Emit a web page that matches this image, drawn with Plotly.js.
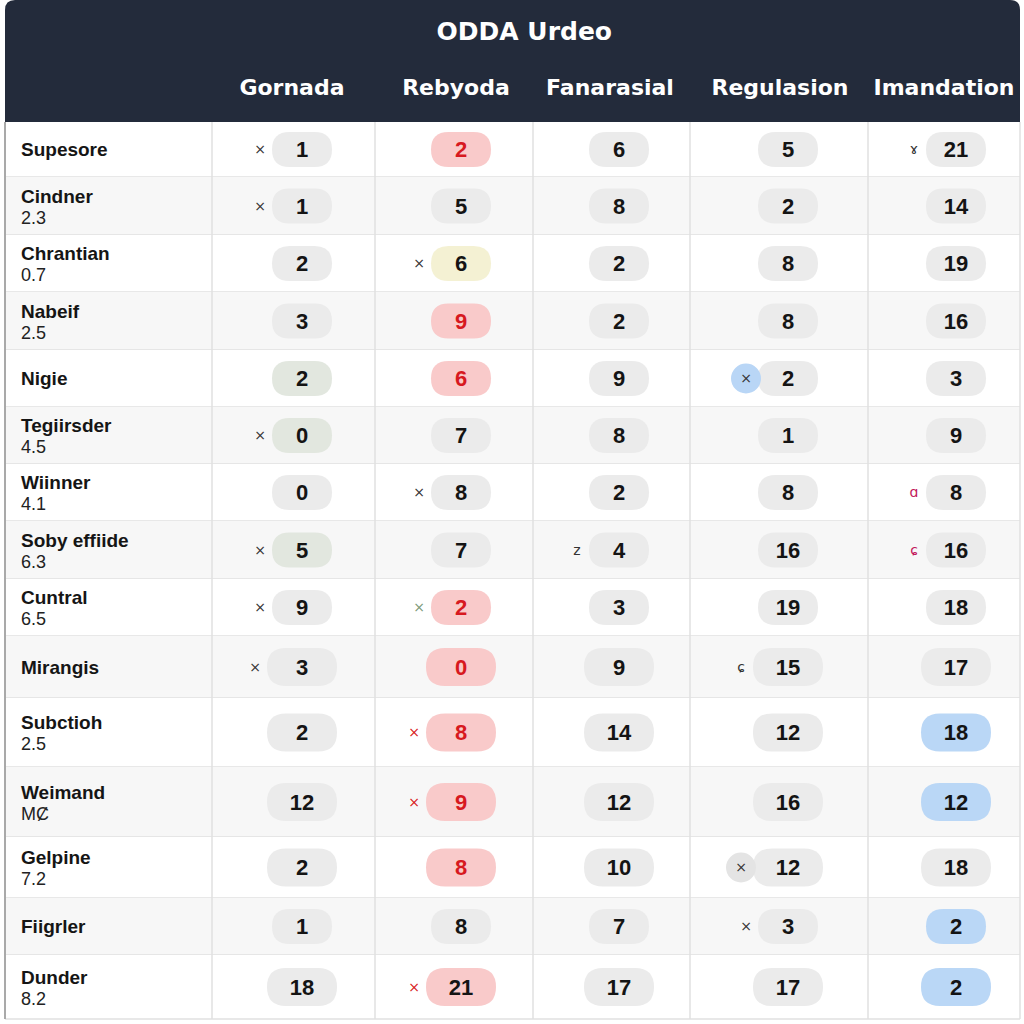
<!DOCTYPE html>
<html>
<head>
<meta charset="utf-8">
<script src="https://cdn.plot.ly/plotly-3.0.1.min.js"></script>
<style>body{margin:0;background:#fff}#plotArea{width:1024px;height:1024px}</style>
</head>
<body>
<div id="plotArea"></div>
<script>
// table content
var title = "ODDA Urdeo";
var columns = ["Gornada", "Rebyoda", "Fanarasial", "Regulasion", "Imandation"];
var names = ["Supesore", "Cindner", "Chrantian", "Nabeif", "Nigie", "Tegiirsder", "Wiinner", "Soby effiide",
    "Cuntral", "Mirangis", "Subctioh", "Weimand", "Gelpine", "Fiigrler", "Dunder"];
var subs = ["", "2.3", "0.7", "2.5", "", "4.5", "4.1", "6.3", "6.5", "", "2.5", "MȻ", "7.2", "", "8.2"];

var gornada    = [1, 1, 2, 3, 2, 0, 0, 5, 9, 3, 2, 12, 2, 1, 18];
var rebyoda    = [2, 5, 6, 9, 6, 7, 8, 7, 2, 0, 8, 9, 8, 8, 21];
var fanarasial = [6, 8, 2, 2, 9, 8, 2, 4, 3, 9, 14, 12, 10, 7, 17];
var regulasion = [5, 2, 8, 8, 2, 1, 8, 16, 19, 15, 12, 16, 12, 3, 17];
var imandation = [21, 14, 19, 16, 3, 9, 8, 16, 18, 17, 18, 12, 18, 2, 2];

// badge tone per cell: g grey, r red, R red badge dark text, v sage, y cream, b blue
var gornadaTone    = ["g","g","g","g","v","v","g","v","g","g","g","g","g","g","g"];
var rebyodaTone    = ["r","g","y","r","r","g","g","g","r","r","r","r","r","g","R"];
var fanarasialTone = ["g","g","g","g","g","g","g","g","g","g","g","g","g","g","g"];
var regulasionTone = ["g","g","g","g","g","g","g","g","g","g","g","g","g","g","g"];
var imandationTone = ["g","g","g","g","g","g","g","g","g","g","b","b","g","b","b"];

// little marks left of some badges: [row, column, glyph, colour, circle]
var cellMarks = [
    [0, 0, "×", "#333", ""], [0, 4, "ɤ", "#333", ""],
    [1, 0, "×", "#333", ""], [2, 1, "×", "#333", ""],
    [4, 3, "×", "#333", "#b9d6f6"], [5, 0, "×", "#333", ""],
    [6, 1, "×", "#333", ""], [6, 4, "ɑ", "#c2185b", ""],
    [7, 0, "×", "#333", ""], [7, 2, "z", "#333", ""], [7, 4, "ɕ", "#c2185b", ""],
    [8, 0, "×", "#333", ""], [8, 1, "×", "#7a9a7a", ""],
    [9, 0, "×", "#333", ""], [9, 3, "ɕ", "#333", ""],
    [10, 1, "×", "#d71920", ""], [11, 1, "×", "#d71920", ""],
    [12, 3, "×", "#333", "#e4e4e4"], [13, 3, "×", "#333", ""],
    [14, 1, "×", "#d71920", ""]
];

// geometry (pixels)
var colEdges = [5, 212, 375, 533, 690, 868, 1020];
var valueX = [302, 461, 619, 788, 956];
var headX = [292, 456, 610, 780, 944];
var tableTop = 122;
var rowH = [55, 58, 57, 58, 57, 57, 57, 58, 57, 62, 69, 70, 61, 57, 64];
var textNudge = 2;

var values = [gornada, rebyoda, fanarasial, regulasion, imandation];
var tones = [gornadaTone, rebyodaTone, fanarasialTone, regulasionTone, imandationTone];
var toneBg = {g: "#ebebeb", r: "#f9caca", R: "#f9caca", v: "#e2e7df", y: "#f4f1d3", b: "#bad7f6"};
var toneText = {g: "#141414", r: "#d71920", R: "#141414", v: "#141414", y: "#141414", b: "#141414"};

var rowTop = [], rowMid = [];
var acc = tableTop;
rowH.forEach(function(h) {
    rowTop.push(acc);
    rowMid.push(acc + h / 2);
    acc += h;
});
var tableBottom = acc;

function roundRect(x0, y0, x1, y1, r) {
    return "M" + (x0 + r) + "," + y0 + " L" + (x1 - r) + "," + y0 +
        " Q" + x1 + "," + y0 + " " + x1 + "," + (y0 + r) +
        " L" + x1 + "," + (y1 - r) + " Q" + x1 + "," + y1 + " " + (x1 - r) + "," + y1 +
        " L" + (x0 + r) + "," + y1 + " Q" + x0 + "," + y1 + " " + x0 + "," + (y1 - r) +
        " L" + x0 + "," + (y0 + r) + " Q" + x0 + "," + y0 + " " + (x0 + r) + "," + y0 + " Z";
}

var shapes = [];
// header block, rounded top
shapes.push({type: "path", xref: "x", yref: "y", layer: "below", line: {width: 0}, fillcolor: "#232b3b",
    path: "M5,122 L5,10 Q5,0 15,0 L1010,0 Q1020,0 1020,10 L1020,122 Z"});

// zebra rows
rowH.forEach(function(h, i) {
    shapes.push({type: "rect", xref: "x", yref: "y", layer: "below", line: {width: 0},
        fillcolor: i % 2 ? "#f7f7f7" : "#ffffff",
        x0: colEdges[0], x1: colEdges[colEdges.length - 1], y0: rowTop[i], y1: rowTop[i] + h});
    shapes.push({type: "line", xref: "x", yref: "y", layer: "below", line: {color: "#e1e1e1", width: 1.5},
        x0: colEdges[0], x1: colEdges[colEdges.length - 1], y0: rowTop[i] + h, y1: rowTop[i] + h});
});
colEdges.forEach(function(x, j) {
    shapes.push({type: "line", xref: "x", yref: "y", layer: "below",
        line: {color: j === 0 ? "#a9a9a9" : "#e1e1e1", width: j === 0 ? 2 : 1.5},
        x0: x, x1: x, y0: tableTop, y1: tableBottom});
});

// badges
var numX = [], numY = [], numText = [], numColor = [];
values.forEach(function(col, j) {
    col.forEach(function(v, i) {
        var w = rowH[i] >= 60 ? 70 : 60;
        var h = rowH[i] >= 60 ? 38 : 35;
        var cx = valueX[j], cy = rowMid[i];
        shapes.push({type: "path", xref: "x", yref: "y", layer: "below", line: {width: 0},
            fillcolor: toneBg[tones[j][i]],
            path: roundRect(cx - w / 2, cy - h / 2, cx + w / 2, cy + h / 2, h / 2)});
        numX.push(cx); numY.push(cy + textNudge); numText.push(String(v)); numColor.push(toneText[tones[j][i]]);
    });
});

var markX = [], markY = [], markText = [], markColor = [];
cellMarks.forEach(function(m) {
    var w = rowH[m[0]] >= 60 ? 70 : 60;
    var x = valueX[m[1]] - w / 2 - 12;
    var y = rowMid[m[0]];
    if (m[4]) {
        shapes.push({type: "circle", xref: "x", yref: "y", layer: "below", line: {width: 0},
            fillcolor: m[4], x0: x - 15, x1: x + 15, y0: y - 15, y1: y + 15});
    }
    markX.push(x); markY.push(y + 1); markText.push(m[2]); markColor.push(m[3]);
});

var nameY = [], subY = [];
names.forEach(function(n, i) {
    nameY.push((subs[i] ? rowMid[i] - 10 : rowMid[i]) + textNudge);
    subY.push(rowMid[i] + 11 + textNudge);
});

var textBase = {type: "scatter", mode: "text", hoverinfo: "skip", showlegend: false, cliponaxis: false};

var headers = Object.assign({}, textBase, {
    x: headX, y: headX.map(function() { return 89; }), text: columns,
    textposition: "middle center",
    textfont: {family: "DejaVu Sans", size: 22, color: "#ffffff", weight: "bold"}
});
var nameTrace = Object.assign({}, textBase, {
    x: names.map(function() { return 21; }), y: nameY, text: names,
    textposition: "middle right",
    textfont: {family: "Liberation Sans", size: 19, color: "#151515", weight: "bold"}
});
var subTrace = Object.assign({}, textBase, {
    x: subs.map(function() { return 21; }), y: subY, text: subs,
    textposition: "middle right",
    textfont: {family: "Liberation Sans", size: 18, color: "#222222"}
});
var numTrace = Object.assign({}, textBase, {
    x: numX, y: numY, text: numText, textposition: "middle center",
    textfont: {family: "Liberation Sans", size: 22, color: numColor, weight: "bold"}
});
var markTrace = Object.assign({}, textBase, {
    x: markX, y: markY, text: markText, textposition: "middle center",
    textfont: {family: "DejaVu Sans", size: 14, color: markColor}
});

var layout = {
    width: 1024, height: 1024,
    margin: {l: 0, r: 0, t: 0, b: 0},
    paper_bgcolor: "#ffffff", plot_bgcolor: "#ffffff",
    title: {text: title, x: 0.512, xanchor: "center", y: 1 - 31 / 1024, yanchor: "middle",
        font: {family: "DejaVu Sans", size: 25, color: "#ffffff", weight: "bold"}},
    xaxis: {range: [0, 1024], visible: false, fixedrange: true},
    yaxis: {range: [1024, 0], visible: false, fixedrange: true},
    shapes: shapes
};

Plotly.newPlot("plotArea", [headers, nameTrace, subTrace, numTrace, markTrace], layout, {staticPlot: true});
</script>
</body>
</html>
